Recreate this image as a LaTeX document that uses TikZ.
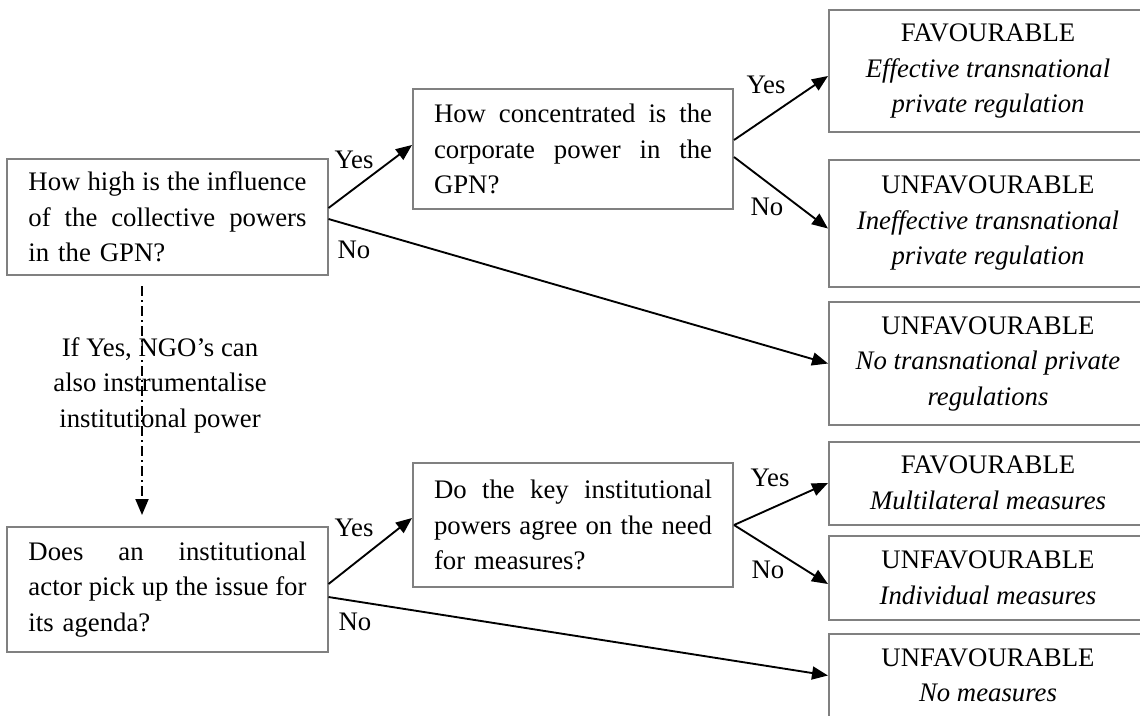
\documentclass[tikz,border=0pt]{standalone}
\usepackage{fontspec}
\setmainfont{Liberation Serif}
\usepackage{xcolor}
\definecolor{boxline}{RGB}{128,128,128}
\usetikzlibrary{positioning, arrows.meta}
\newlength{\qwidth}
\setlength{\qwidth}{111.2pt}
\newcommand{\jline}[1]{\leavevmode\hbox to \qwidth{\spaceskip=.25em plus 1fil\relax #1}}
\tikzstyle{Question} = [
draw=boxline, line width=0.8pt,
text width=\qwidth, align=left, inner xsep=8.4pt,
font=\fontsize{10.7}{14.2}\selectfont]
\tikzstyle{Result} = [
draw=boxline, line width=0.8pt,
minimum width=127.2pt, align=center,
font=\fontsize{10.7}{14.2}\selectfont]
\tikzstyle{Answer} = [inner sep=0pt, font=\fontsize{10.7}{14.2}\selectfont]
\tikzstyle{Arrow} = [
line width=0.75pt,
-{Triangle[length=6.4pt, width=5.2pt]}]

\begin{document}
\begin{tikzpicture}[x=0.4pt, y=-0.4pt]
    \useasboundingbox (0,0) rectangle (1140,715);

    \node [Question, minimum height=46.4pt] (q1) at (167.5,217)
        {\jline{How high is the influence}\\\jline{of the collective powers}\\in the GPN?};
    \node [Question, minimum height=48pt] (q2) at (573,149)
        {\jline{How concentrated is the}\\\jline{corporate power in the}\\GPN?};
    \node [Question, minimum height=50pt, below=100pt of q1] (q3)
        {\jline{Does an institutional}\\\jline{actor pick up the issue for}\\its agenda?};
    \node [Question, minimum height=49.6pt] (q4) at (573,525)
        {\jline{Do the key institutional}\\\jline{powers agree on the need}\\for measures?};

    \node [Result, minimum height=48.8pt, anchor=north west] (r1) at (828,9)
        {FAVOURABLE\\\textit{Effective transnational}\\\textit{private regulation}};
    \node [Result, minimum height=50.8pt, below=10.2pt of r1] (r2)
        {UNFAVOURABLE\\\textit{Ineffective transnational}\\\textit{private regulation}};
    \node [Result, minimum height=49.2pt, below=5.4pt of r2] (r3)
        {UNFAVOURABLE\\\textit{No transnational private}\\\textit{regulations}};
    \node [Result, minimum height=33.2pt, below=5.8pt of r3] (r4)
        {FAVOURABLE\\\textit{Multilateral measures}};
    \node [Result, minimum height=33.6pt, below=3.8pt of r4] (r5)
        {UNFAVOURABLE\\\textit{Individual measures}};
    \node [Result, minimum height=33.6pt, below=4.6pt of r5] (r6)
        {UNFAVOURABLE\\\textit{No measures}};

    \node [Answer, align=center] (ngo) at (160,385)
        {If Yes, NGO’s can\\also instrumentalise\\institutional power};

    \node [Answer] (yes1) at (354,160) {Yes};
    \node [Answer] (no1) at (354,250) {No};
    \node [Answer] (yes2) at (766,85) {Yes};
    \node [Answer] (no2) at (767,207) {No};
    \node [Answer] (yes3) at (354,528) {Yes};
    \node [Answer] (no3) at (355,622) {No};
    \node [Answer] (yes4) at (770,478) {Yes};
    \node [Answer] (no4) at (768,570) {No};

    \draw[Arrow] ([yshift=3.6pt]q1.east) -- ([yshift=1.6pt]q2.west);
    \draw[Arrow] ([yshift=-0.8pt]q1.east) -- (r3.west);
    \draw[Arrow] ([yshift=3.6pt]q2.east) -- ([yshift=-2pt]r1.west);
    \draw[Arrow] ([yshift=-3.2pt]q2.east) -- ([yshift=-2.2pt]r2.west);
    \draw[Arrow, dash pattern=on 4pt off 1.6pt on 0.8pt off 1.6pt]
        ([xshift=-10.2pt, yshift=-4pt]q1.south) -- ([xshift=-10.2pt, yshift=4.4pt]q3.north);
    \draw[Arrow] ([yshift=2.2pt]q3.east) -- ([yshift=2.8pt]q4.west);
    \draw[Arrow] ([yshift=-3pt]q3.east) -- (r6.west);
    \draw[Arrow] (q4.east) -- (r4.west);
    \draw[Arrow] (q4.east) -- ([yshift=-2.4pt]r5.west);
\end{tikzpicture}
\end{document}
